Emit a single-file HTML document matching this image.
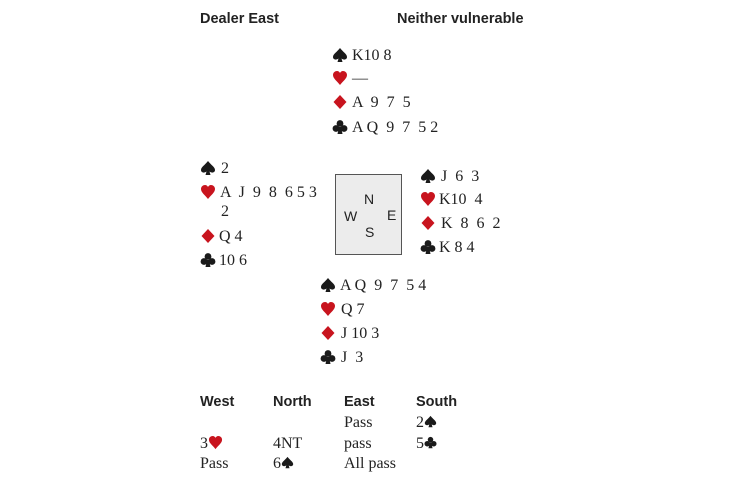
<!DOCTYPE html>
<html><head><meta charset="utf-8"><style>
body{margin:0;width:730px;height:486px;background:#fff;position:relative;font-family:"Liberation Serif",serif;font-size:16px;color:#222;overflow:hidden}
.a{position:absolute;line-height:20px;white-space:pre}
.h{font-family:"Liberation Sans",sans-serif;font-weight:bold;font-size:14.5px}
svg.i{position:absolute;width:16px;height:16px}
svg.t{width:13px;height:13px;vertical-align:-1px}
.box{position:absolute;left:335px;top:174px;width:67px;height:81px;background:#ececec;border:1.5px solid #555;box-sizing:border-box}
.c{position:absolute;font-family:"Liberation Sans",sans-serif;font-size:14px;line-height:14px}
</style></head><body>
<svg width="0" height="0" style="position:absolute">
<defs>
<path id="sp" d="M8 1C5 5 1 7 1 10C1 12.5 4 13.5 6.5 11.5L5.5 15H10.5L9.5 11.5C12 13.5 15 12.5 15 10C15 7 11 5 8 1Z" fill="#1a1a1a"/>
<path id="he" d="M8 15C5 11 1 8.5 1 5C1 2.5 3 1 5 1C6.5 1 7.5 2 8 3C8.5 2 9.5 1 11 1C13 1 15 2.5 15 5C15 8.5 11 11 8 15Z" fill="#c8141e"/>
<path id="di" d="M8 1L14.5 8L8 15L1.5 8Z" fill="#c8141e"/>
<g id="cl" fill="#1a1a1a"><circle cx="8" cy="4.5" r="3.4"/><circle cx="4" cy="9.5" r="3.4"/><circle cx="12" cy="9.5" r="3.4"/><path d="M7 8L5.5 15H10.5L9 8Z"/></g>
</defs></svg>

<div class="a h" style="left:200px;top:9px">Dealer East</div>
<div class="a h" style="left:397px;top:9px">Neither vulnerable</div>

<svg class="i" style="left:332px;top:47px"><use href="#sp"/></svg><div class="a" style="left:352px;top:46px">K10 8</div>
<svg class="i" style="left:332px;top:70px"><use href="#he"/></svg><div class="a" style="left:352px;top:69px">—</div>
<svg class="i" style="left:332px;top:94px"><use href="#di"/></svg><div class="a" style="left:352px;top:93px">A  9  7  5</div>
<svg class="i" style="left:332px;top:119px"><use href="#cl"/></svg><div class="a" style="left:352px;top:118px">A Q  9  7  5 2</div>

<svg class="i" style="left:200px;top:160px"><use href="#sp"/></svg><div class="a" style="left:221px;top:159px">2</div>
<svg class="i" style="left:200px;top:184px"><use href="#he"/></svg><div class="a" style="left:220px;top:183px">A  J  9  8  6 5 3</div>
<div class="a" style="left:221px;top:202px">2</div>
<svg class="i" style="left:200px;top:228px"><use href="#di"/></svg><div class="a" style="left:219px;top:227px">Q 4</div>
<svg class="i" style="left:200px;top:252px"><use href="#cl"/></svg><div class="a" style="left:219px;top:251px">10 6</div>

<div class="box"></div>
<div class="c" style="left:364px;top:192px">N</div>
<div class="c" style="left:344px;top:209px">W</div>
<div class="c" style="left:387px;top:208px">E</div>
<div class="c" style="left:365px;top:225px">S</div>

<svg class="i" style="left:420px;top:168px"><use href="#sp"/></svg><div class="a" style="left:441px;top:167px">J  6  3</div>
<svg class="i" style="left:420px;top:191px"><use href="#he"/></svg><div class="a" style="left:439px;top:190px">K10  4</div>
<svg class="i" style="left:420px;top:215px"><use href="#di"/></svg><div class="a" style="left:441px;top:214px">K  8  6  2</div>
<svg class="i" style="left:420px;top:239px"><use href="#cl"/></svg><div class="a" style="left:439px;top:238px">K 8 4</div>

<svg class="i" style="left:320px;top:277px"><use href="#sp"/></svg><div class="a" style="left:340px;top:276px">A Q  9  7  5 4</div>
<svg class="i" style="left:320px;top:301px"><use href="#he"/></svg><div class="a" style="left:341px;top:300px">Q 7</div>
<svg class="i" style="left:320px;top:325px"><use href="#di"/></svg><div class="a" style="left:341px;top:324px">J 10 3</div>
<svg class="i" style="left:320px;top:349px"><use href="#cl"/></svg><div class="a" style="left:341px;top:348px">J  3</div>

<div class="a h" style="left:200px;top:392px">West</div>
<div class="a h" style="left:273px;top:392px">North</div>
<div class="a h" style="left:344px;top:392px">East</div>
<div class="a h" style="left:416px;top:392px">South</div>
<div class="a" style="left:344px;top:413px">Pass</div>
<div class="a" style="left:416px;top:413px">2<svg class="t" viewBox="0 0 16 16"><use href="#sp"/></svg></div>
<div class="a" style="left:200px;top:434px">3<svg class="t" viewBox="0 0 16 16" style="width:15px;height:15px;vertical-align:-2px"><use href="#he"/></svg></div>
<div class="a" style="left:273px;top:434px">4NT</div>
<div class="a" style="left:344px;top:434px">pass</div>
<div class="a" style="left:416px;top:434px">5<svg class="t" viewBox="0 0 16 16"><use href="#cl"/></svg></div>
<div class="a" style="left:200px;top:454px">Pass</div>
<div class="a" style="left:273px;top:454px">6<svg class="t" viewBox="0 0 16 16"><use href="#sp"/></svg></div>
<div class="a" style="left:344px;top:454px">All pass</div>
</body></html>
